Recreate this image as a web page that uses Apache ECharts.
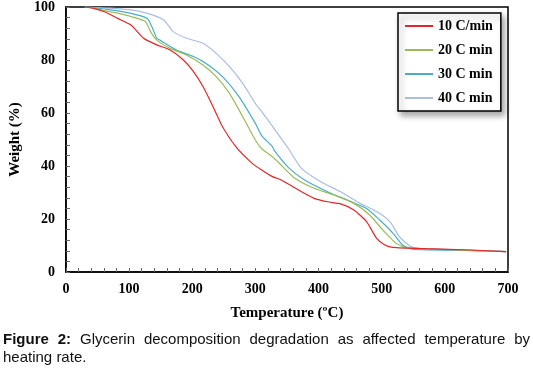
<!DOCTYPE html>
<html>
<head>
<meta charset="utf-8">
<script src="https://cdn.jsdelivr.net/npm/echarts@6/dist/echarts.min.js"></script>
<style>
  html, body { margin: 0; padding: 0; background: #fff; }
  #chart { width: 533px; height: 371px; }
</style>
</head>
<body>
<div id="chart"></div>
<script>
// [temperature C, weight %]
const rate10 = [[30,100],[45,99.4],[61,98.2],[82,95.7],[103,93.2],[123,88.2],[144,85.7],[165,83.8],[186,80],[202,75.6],[217,70],[233,62.4],[248,54.8],[269,47.3],[295,41],[310,38.5],[327,36],[341,34.7],[373,30.3],[393,27.8],[414,26.5],[435,25.7],[456,23.4],[476,19],[492,12.7],[505,10.2],[518,9.3],[570,8.8],[640,8.3],[697,7.7]]
const rate20 = [[30,100],[45,99.6],[61,98.6],[87,97.4],[113,95.7],[126,94.5],[134,90.7],[144,87.5],[165,84.4],[191,81.9],[217,78.1],[238,73.7],[259,67.4],[280,58.6],[300,49.8],[310,46.5],[327,43.5],[336,41.5],[362,35.5],[393,31.6],[425,29],[456,25.9],[481,21.5],[502,15.8],[523,10.8],[538,9.3],[600,8.5],[697,7.7]]
const rate30 = [[30,100],[66,99.1],[103,97.6],[129,95.7],[136,92.6],[144,88.2],[149,87.5],[175,83.8],[202,81.3],[222,78.7],[248,73.7],[274,66.2],[300,56.1],[310,51.5],[327,47.3],[331,45.5],[352,39.5],[378,34.7],[414,30.3],[445,27.2],[476,24],[497,19.6],[518,14.6],[533,10.2],[549,8.6],[620,8.2],[697,7.7]]
const rate40 = [[30,100],[70,99.6],[103,98.9],[129,97.6],[155,95.1],[170,90.7],[191,88.2],[217,86.3],[238,82.5],[259,77.5],[280,71.2],[300,63.6],[310,60.5],[327,55],[331,53.6],[352,46.7],[373,39.1],[404,34],[435,30.3],[466,25.9],[492,22.8],[513,19],[528,13.3],[546,9.6],[560,8.8],[640,8.3],[697,7.7]]
const seriesNames = ['10 C/min', '20 C min', '30 C min', '40 C min']
const seriesColors = ['#e2272b', '#9bbb59', '#4bacc6', '#a9bde3']
const xTicks = [0, 700, 100]
const yTicks = [0, 100, 20]

const serif = '"Liberation Serif", "Times New Roman", serif'
const sans = '"Liberation Sans", Arial, sans-serif'

const chart = echarts.init(document.getElementById('chart'))

// justified caption line, words positioned with measured widths
const captionWords = [
  { t: 'Figure', b: true }, { t: '2:', b: true },
  { t: 'Glycerin' }, { t: 'decomposition' }, { t: 'degradation' }, { t: 'as' },
  { t: 'affected' }, { t: 'temperature' }, { t: 'by' },
]
const cvs = document.createElement('canvas').getContext('2d')
const fontOf = w => (w.b ? 'bold ' : '') + '15px ' + sans
let total = 0
captionWords.forEach(w => { cvs.font = fontOf(w); w.w = cvs.measureText(w.t).width; total += w.w })
const gap = (527 - total) / (captionWords.length - 1)
let cx = 3
const captionGraphics = captionWords.map(w => {
  const g = { type: 'text', left: cx, top: 332, style: { text: w.t, font: fontOf(w), fill: '#111' } }
  cx += w.w + gap
  return g
})
captionGraphics.push({ type: 'text', left: 3, top: 350, style: { text: 'heating rate.', font: '15px ' + sans, fill: '#111' } })

const data = [rate10, rate20, rate30, rate40]

chart.setOption({
  animation: false,
  backgroundColor: '#fff',
  grid: { left: 61, right: 25, top: 7, bottom: 99, show: true, borderColor: '#000', borderWidth: 1.5 },
  legend: {
    orient: 'vertical',
    left: 398, top: 13,
    padding: [6, 8, 6, 6],
    itemWidth: 28, itemHeight: 14, itemGap: 10,
    backgroundColor: '#fff',
    borderColor: '#000', borderWidth: 1.5,
    shadowColor: 'rgba(0,0,0,0.35)', shadowBlur: 6, shadowOffsetX: 3, shadowOffsetY: 4,
    itemStyle: { opacity: 0 },
    textStyle: { fontFamily: serif, fontWeight: 'bold', fontSize: 14, color: '#000' },
    data: seriesNames,
  },
  xAxis: {
    type: 'value', min: xTicks[0], max: xTicks[1], interval: xTicks[2],
    name: 'Temperature (ºC)',
    nameLocation: 'middle', nameGap: 34,
    nameTextStyle: { fontFamily: serif, fontWeight: 'bold', fontSize: 15, color: '#000' },
    axisLine: { show: true, lineStyle: { color: '#000', width: 1.5 } },
    axisTick: { show: true, inside: true, length: 4, lineStyle: { color: '#666' } },
    minorTick: { show: true, splitNumber: 5, length: 4, lineStyle: { color: '#666' } },
    splitLine: { show: false },
    axisLabel: { fontFamily: serif, fontWeight: 'bold', fontSize: 14, color: '#000', margin: 10 },
  },
  yAxis: {
    type: 'value', min: yTicks[0], max: yTicks[1], interval: yTicks[2],
    name: 'Weight (%)',
    nameLocation: 'middle', nameGap: 40,
    nameTextStyle: { fontFamily: serif, fontWeight: 'bold', fontSize: 15, color: '#000' },
    axisLine: { show: true, lineStyle: { color: '#000', width: 1.5 } },
    axisTick: { show: true, inside: true, length: 4, lineStyle: { color: '#666' } },
    minorTick: { show: true, splitNumber: 5, length: 4, lineStyle: { color: '#666' } },
    splitLine: { show: false },
    axisLabel: { fontFamily: serif, fontWeight: 'bold', fontSize: 14, color: '#000', margin: 11 },
  },
  graphic: captionGraphics,
  series: data.map((d, i) => ({
    name: seriesNames[i],
    type: 'line',
    data: d,
    symbol: 'none',
    smooth: 0.2,
    color: seriesColors[i],
    lineStyle: { width: 1.2, color: seriesColors[i] },
    z: 10 - i,
  })),
})
</script>
</body>
</html>
